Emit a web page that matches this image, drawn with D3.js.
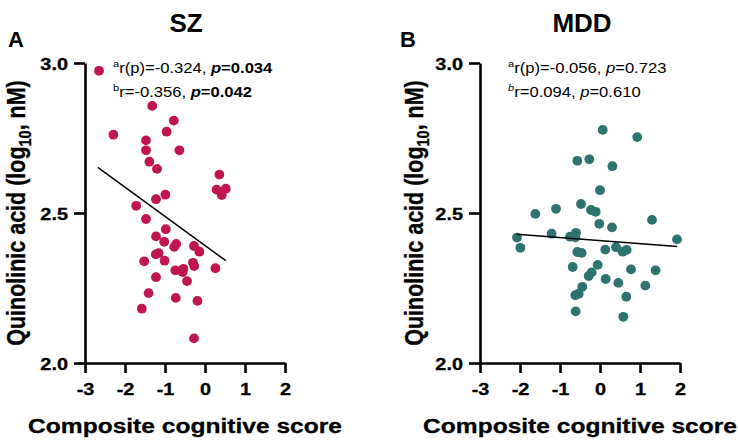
<!DOCTYPE html>
<html>
<head>
<meta charset="utf-8">
<script src="https://cdn.jsdelivr.net/npm/d3@7"></script>
<style>
  html, body { margin: 0; padding: 0; background: #fff; }
  svg { display: block; font-family: "Liberation Sans", Arial, sans-serif; }
</style>
</head>
<body>
<svg id="chart" width="738" height="445"></svg>
<script>
// ---------- data ----------
const xTicks = [-3, -2, -1, 0, 1, 2];
const yTicks = [2.0, 2.5, 3.0];
const yTickLabels = ["2.0", "2.5", "3.0"];
const panelTitles = ["SZ", "MDD"];
const panelLetters = ["A", "B"];
const xTitle = "Composite cognitive score";

const szX = [-2.65, -1.32, -0.78, -2.29, -0.96, -1.475, -1.475, -0.64, -1.39, -1.2,
             0.36, 0.29, 0.52, 0.42, -1.225, -0.99,
             -1.72, -1.475, -0.98, -1.225, -1.02, -0.72, -0.77, -0.275, -0.14, -1.23,
             -1.16, -1.52, -1.01, -0.3, -0.27, 0.26, -0.74, -0.54, -0.56, -1.225,
             -0.45, -1.41, -0.73, -0.19, -1.58, -0.275];
const szY = [2.974, 2.857, 2.808, 2.761, 2.771, 2.742, 2.709, 2.709, 2.671, 2.647,
             2.628, 2.578, 2.581, 2.56, 2.546, 2.561,
             2.524, 2.48, 2.446, 2.422, 2.404, 2.397, 2.387, 2.39, 2.371, 2.362,
             2.366, 2.339, 2.341, 2.334, 2.323, 2.316, 2.309, 2.314, 2.303, 2.286,
             2.273, 2.233, 2.217, 2.207, 2.181, 2.082];

const mddX = [0.067, 0.93, -0.567, -0.267, 0.31, 0.0,
              -0.475, -1.1, -1.617, -0.225, -0.108, 1.3, -0.017, 0.3, -1.21,
              -0.6, -0.75, -0.617, -2.075, 1.925, -1.99, 0.4, 0.133, 0.567, 0.667,
              -0.567, -0.46, -0.058, -0.683, 0.775, 1.39, -0.208, -0.283, 0.142,
              0.458, 1.133, -0.442, -0.533, -0.617, 0.658, -0.608, 0.583];
const mddY = [2.777, 2.753, 2.674, 2.679, 2.656, 2.576,
              2.53, 2.514, 2.497, 2.51, 2.504, 2.477, 2.464, 2.452, 2.431,
              2.434, 2.421, 2.419, 2.418, 2.412, 2.384, 2.386, 2.378, 2.371, 2.377,
              2.37, 2.367, 2.327, 2.32, 2.312, 2.309, 2.302, 2.29, 2.28,
              2.267, 2.258, 2.254, 2.231, 2.226, 2.221, 2.172, 2.154];

const szFitX = [-2.68, 0.52];
const szFitY = [2.652, 2.341];
const mddFitX = [-2.08, 1.93];
const mddFitY = [2.429, 2.388];

// ---------- drawing ----------
const svg = d3.select("#chart");
const SX = 1.17; // horizontal glyph stretch seen in reference

const panels = [
  { x0: 85, x1: 285, xs: szX, ys: szY, fx: szFitX, fy: szFitY, color: "#BF1550",
    titleX: 186, letterX: 8, yTitleX: 25,
    ann: [
      [{t:"a", sup:true}, {t:"r(p)=-0.324, "}, {t:"p", b:true, i:true}, {t:"=0.034", b:true}],
      [{t:"b", sup:true}, {t:"r=-0.356, "}, {t:"p", b:true, i:true}, {t:"=0.042", b:true}]
    ], annX: 113 },
  { x0: 480, x1: 680, xs: mddX, ys: mddY, fx: mddFitX, fy: mddFitY, color: "#2D7370",
    titleX: 582, letterX: 400, yTitleX: 423,
    ann: [
      [{t:"a", sup:true}, {t:"r(p)=-0.056, "}, {t:"p", i:true}, {t:"=0.723"}],
      [{t:"b", sup:true, i:true}, {t:"r=0.094, "}, {t:"p", i:true}, {t:"=0.610"}]
    ], annX: 508 }
];

const yTop = 63, yBot = 363;

panels.forEach((p, pi) => {
  const x = d3.scaleLinear().domain([-3, 2]).range([p.x0, p.x1]);
  const y = d3.scaleLinear().domain([2.0, 3.0]).range([yBot, yTop]);
  const g = svg.append("g");

  // x axis
  const xa = g.append("g").attr("transform", `translate(0,${yBot})`)
    .call(d3.axisBottom(x).tickValues(xTicks).tickSize(10).tickSizeOuter(0)
      .tickFormat(d3.format("d")));
  xa.select(".domain").attr("stroke", "#000").attr("stroke-width", 2.6);
  xa.selectAll(".tick line").attr("stroke", "#000").attr("stroke-width", 2.6);
  xa.selectAll(".tick text")
    .attr("y", null).attr("dy", null)
    .attr("transform", `translate(0,32) scale(${SX},1)`)
    .attr("font-size", 17).attr("font-weight", "bold")
    .attr("stroke", "#000").attr("stroke-width", 0.3)
    .attr("font-family", "Liberation Sans, Arial, sans-serif")
    .text(d => d < 0 ? "-" + Math.abs(d) : String(d));

  // y axis
  const ya = g.append("g").attr("transform", `translate(${p.x0},0)`)
    .call(d3.axisLeft(y).tickValues(yTicks).tickSize(11).tickSizeOuter(0)
      .tickFormat((d, i) => yTickLabels[i]));
  ya.select(".domain").attr("stroke", "#000").attr("stroke-width", 2.6);
  ya.selectAll(".tick line").attr("stroke", "#000").attr("stroke-width", 2.6);
  ya.selectAll(".tick text")
    .attr("x", null).attr("dy", "0.36em")
    .attr("transform", `translate(-17,0) scale(${SX},1)`)
    .attr("font-size", 17).attr("font-weight", "bold")
    .attr("stroke", "#000").attr("stroke-width", 0.3)
    .attr("font-family", "Liberation Sans, Arial, sans-serif");

  // points
  g.append("g").selectAll("circle")
    .data(p.xs.map((v, i) => [v, p.ys[i]]))
    .join("circle")
    .attr("cx", d => x(d[0])).attr("cy", d => y(d[1]))
    .attr("r", 4.9).attr("fill", p.color);

  // fit line
  g.append("path")
    .datum(p.fx.map((v, i) => [v, p.fy[i]]))
    .attr("d", d3.line().x(d => x(d[0])).y(d => y(d[1])))
    .attr("fill", "none").attr("stroke", "#000").attr("stroke-width", 1.5);

  // annotations
  p.ann.forEach((line, li) => {
    const t = g.append("text")
      .attr("transform", `translate(${p.annX},${73 + li * 24}) scale(${SX},1)`)
      .attr("font-size", 14.2).attr("fill", "#000");
    line.forEach(seg => {
      const s = t.append("tspan").text(seg.t);
      if (seg.sup) s.attr("font-size", 9.5).attr("baseline-shift", "6");
      if (seg.b) s.attr("font-weight", "bold");
      if (seg.i) s.attr("font-style", "italic");
    });
  });

  // panel title
  svg.append("text")
    .attr("transform", `translate(${p.titleX},32)`)
    .attr("text-anchor", "middle").attr("font-size", 26).attr("font-weight", "bold")
    .text(panelTitles[pi]);
  svg.append("text")
    .attr("transform", `translate(${p.letterX},47)`)
    .attr("font-size", 22).attr("font-weight", "bold")
    .text(panelLetters[pi]);

  // x title
  svg.append("text")
    .attr("transform", `translate(${(p.x0 + p.x1) / 2},433) scale(${SX},1)`)
    .attr("text-anchor", "middle").attr("font-size", 21).attr("font-weight", "bold")
    .attr("stroke", "#000").attr("stroke-width", 0.3)
    .text(xTitle);

  // y title
  const yt = svg.append("text")
    .attr("transform", `translate(${p.yTitleX},${(yTop + yBot) / 2}) scale(${SX},1) rotate(-90)`)
    .attr("text-anchor", "middle").attr("font-size", 21.5).attr("font-weight", "bold")
    .attr("stroke", "#000").attr("stroke-width", 0.3);
  yt.append("tspan").text("Quinolinic acid (log");
  yt.append("tspan").text("10").attr("font-size", 14.5).attr("dy", 5);
  yt.append("tspan").text(", nM)").attr("dy", -5);
});
</script>
</body>
</html>
